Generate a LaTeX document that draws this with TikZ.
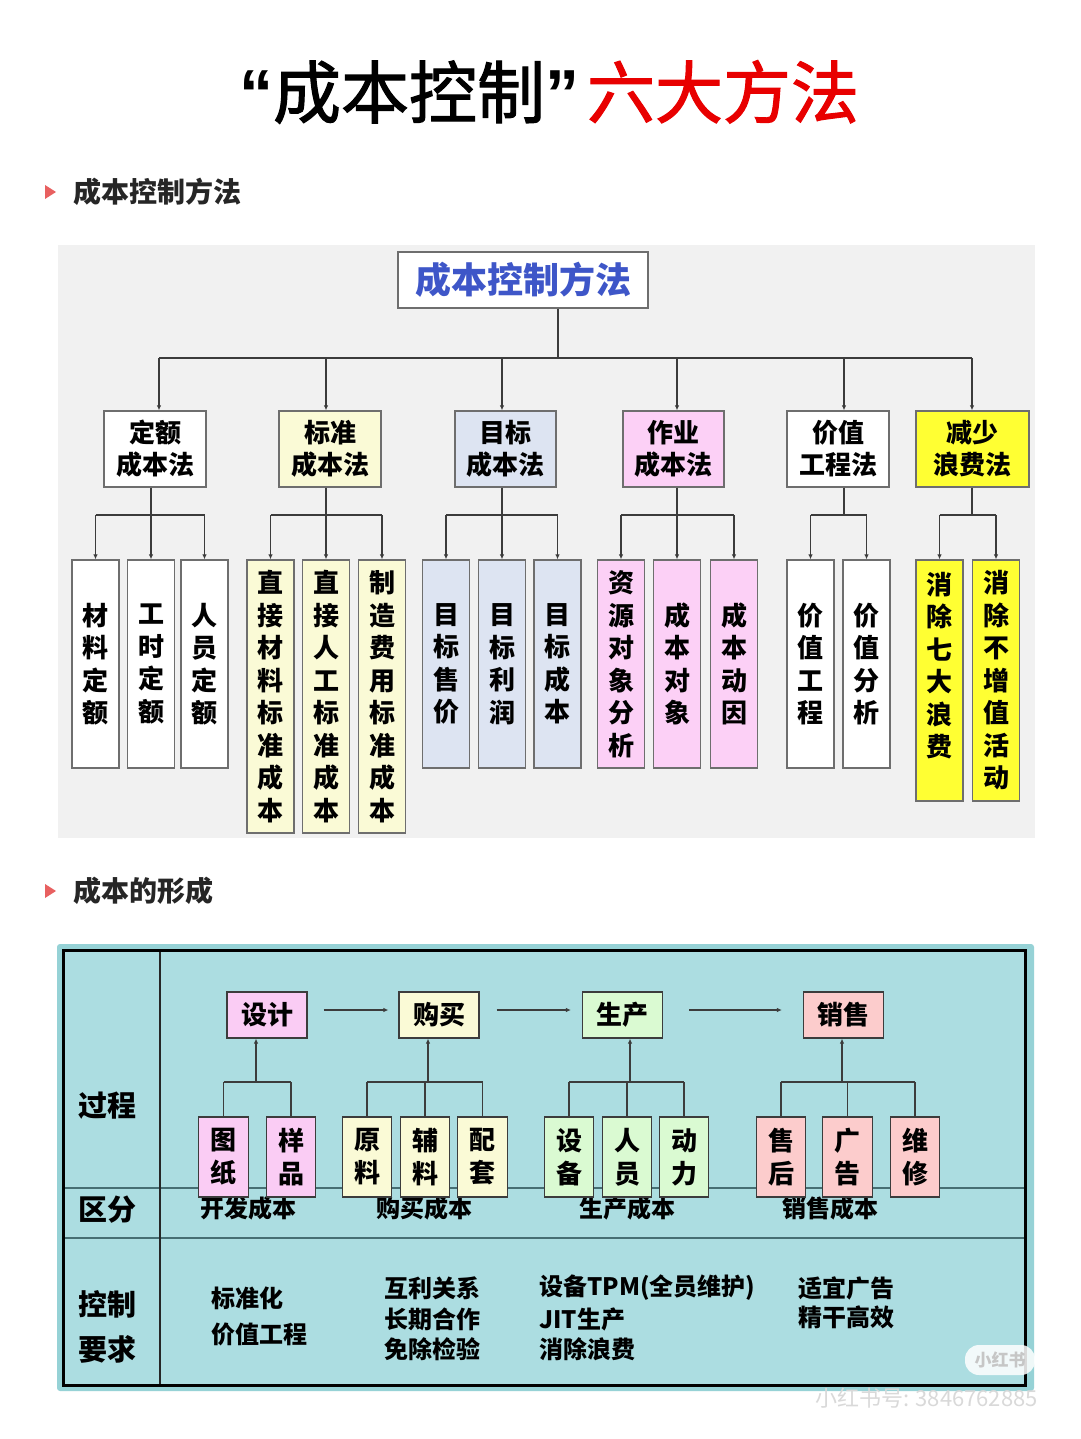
\documentclass[tikz,border=0pt]{standalone}
\usepackage{fontspec}
\setmainfont{Noto Sans CJK SC}
\newfontfamily\titlefont{Noto Sans CJK SC}[FakeBold=1.6]
\newfontfamily\quotefont{Liberation Sans}
\usetikzlibrary{arrows.meta,calc}
\definecolor{lnc}{RGB}{60,60,60}
\definecolor{bdc}{RGB}{110,110,110}
\definecolor{cwhite}{RGB}{255,255,255}
\definecolor{cly}{RGB}{250,250,214}
\definecolor{clb}{RGB}{221,228,242}
\definecolor{cpk}{RGB}{252,208,246}
\definecolor{cyl}{RGB}{255,255,51}
\definecolor{rootblue}{RGB}{62,86,200}
\definecolor{panel}{RGB}{241,241,241}
\definecolor{secred}{RGB}{232,96,96}
\definecolor{titred}{RGB}{232,0,0}
\definecolor{teal}{RGB}{172,221,225}
\definecolor{tealframe}{RGB}{150,210,214}
\definecolor{rowline}{RGB}{70,110,115}
\definecolor{bpk}{RGB}{250,204,244}
\definecolor{bly}{RGB}{250,250,214}
\definecolor{bgr}{RGB}{218,250,210}
\definecolor{bsa}{RGB}{252,204,204}
\tikzset{
  ln/.style={draw=lnc,line width=1.3pt},
  arr/.style={draw=lnc,line width=1.3pt,-{Latex[length=5pt,width=4.5pt]}},
  rootbox/.style={draw=bdc,line width=1.3pt,fill=white,minimum width=250pt,minimum height=56pt,inner sep=0pt,text=rootblue,font={\bfseries\fontsize{36}{40}\selectfont}},
  lonebox/.style={draw=bdc,line width=1.3pt,minimum height=76pt,inner sep=0pt,align=center,font={\bfseries\fontsize{26}{32}\selectfont}},
  leaf/.style={draw=bdc,line width=1.3pt,minimum width=47pt,inner sep=0pt,align=center,font={\bfseries\fontsize{26}{32.5}\selectfont}},
  pbox/.style={draw=lnc,line width=1.2pt,minimum width=80pt,minimum height=46pt,inner sep=0pt,font={\bfseries\fontsize{26}{30}\selectfont}},
  sbox/.style={draw=lnc,line width=1.2pt,minimum width=49.5pt,minimum height=80pt,inner sep=0pt,align=center,font={\bfseries\fontsize{26}{33}\selectfont}},
  rowlab/.style={inner sep=0pt,font={\bfseries\fontsize{29}{32}\selectfont}},
  costlab/.style={inner sep=0pt,font={\bfseries\fontsize{24}{28}\selectfont}},
  ctl/.style={inner sep=0pt,anchor=west,font={\bfseries\fontsize{24}{28}\selectfont}},
  sechead/.style={inner sep=0pt,anchor=west,text={black!85},font={\bfseries\fontsize{28}{32}\selectfont}}
}
\begin{document}
\begin{tikzpicture}[x=1pt,y=-1pt]
\useasboundingbox (0,0) rectangle (1080,1439);
\fill[white] (0,0) rectangle (1080,1439);

% title
\node[inner sep=0pt,font={\titlefont\fontsize{68}{72}\selectfont}] (title) at (549,92) {{\quotefont\bfseries “}成本控制{\quotefont\bfseries ”}\hspace{8pt}\textcolor{titred}{六大方法}};

% section 1
\fill[secred] (45,185) -- (56,192) -- (45,199) -- cycle;
\node[sechead] (sec1) at (73,192) {成本控制方法};

% panel
\fill[panel] (58,245) rectangle (1035,838);

% root
\node[rootbox] (root) at (523,280) {成本控制方法};

% level 1
\node[lonebox,fill=cwhite,minimum width=102pt] (A) at (155,449) {定额\\成本法};
\node[lonebox,fill=cly,minimum width=102pt] (B) at (330,449) {标准\\成本法};
\node[lonebox,fill=clb,minimum width=101pt] (C) at (505.5,449) {目标\\成本法};
\node[lonebox,fill=cpk,minimum width=101pt] (D) at (673.5,449) {作业\\成本法};
\node[lonebox,fill=cwhite,minimum width=102pt] (E) at (838,449) {价值\\工程法};
\node[lonebox,fill=cyl,minimum width=113pt] (F) at (972.5,449) {减少\\浪费法};

% root connectors
\coordinate (bus0) at (558,358);
\draw[ln] (root.south -| bus0) -- (bus0);
\coordinate (dA) at (159,358);
\coordinate (dB) at (326,358);
\coordinate (dC) at (502,358);
\coordinate (dD) at (677,358);
\coordinate (dE) at (844,358);
\coordinate (dF) at (972,358);
\draw[ln] (dA) -- (dF);
\foreach \c/\n in {dA/A,dB/B,dC/C,dD/D,dE/E,dF/F}
  \draw[arr] (\c) -- (\c |- \n.north);

% leaves
\node[leaf,fill=cwhite,minimum height=208pt] (a1) at (95.5,664) {材\\料\\定\\额};
\node[leaf,fill=cwhite,minimum height=208pt] (a2) at (151,664) {工\\时\\定\\额};
\node[leaf,fill=cwhite,minimum height=208pt] (a3) at (204.5,664) {人\\员\\定\\额};
\node[leaf,fill=cly,minimum height=273pt] (b1) at (270.5,696.5) {直\\接\\材\\料\\标\\准\\成\\本};
\node[leaf,fill=cly,minimum height=273pt] (b2) at (326,696.5) {直\\接\\人\\工\\标\\准\\成\\本};
\node[leaf,fill=cly,minimum height=273pt] (b3) at (382,696.5) {制\\造\\费\\用\\标\\准\\成\\本};
\node[leaf,fill=clb,minimum height=208pt] (c1) at (446,664) {目\\标\\售\\价};
\node[leaf,fill=clb,minimum height=208pt] (c2) at (502,664) {目\\标\\利\\润};
\node[leaf,fill=clb,minimum height=208pt] (c3) at (557.5,664) {目\\标\\成\\本};
\node[leaf,fill=cpk,minimum height=208pt] (d1) at (621,664) {资\\源\\对\\象\\分\\析};
\node[leaf,fill=cpk,minimum height=208pt] (d2) at (677,664) {成\\本\\对\\象};
\node[leaf,fill=cpk,minimum height=208pt] (d3) at (734,664) {成\\本\\动\\因};
\node[leaf,fill=cwhite,minimum height=208pt] (e1) at (810.5,664) {价\\值\\工\\程};
\node[leaf,fill=cwhite,minimum height=208pt] (e2) at (866.5,664) {价\\值\\分\\析};
\node[leaf,fill=cyl,minimum height=241pt] (f1) at (939.5,680.5) {消\\除\\七\\大\\浪\\费\\\mbox{}};
\node[leaf,fill=cyl,minimum height=241pt] (f2) at (996,680.5) {消\\除\\不\\增\\值\\活\\动};

% level-1 to leaves
\foreach \p/\x/\first/\last/\kids in {
  A/151/a1/a3/{a1,a2,a3},
  B/326/b1/b3/{b1,b2,b3},
  C/502/c1/c3/{c1,c2,c3},
  D/677/d1/d3/{d1,d2,d3},
  E/844/e1/e2/{e1,e2},
  F/972/f1/f2/{f1,f2}}{
  \coordinate (s\p) at (\x,515);
  \draw[ln] (\p.south -| s\p) -- (s\p);
  \draw[ln] (\first |- s\p) -- (\last |- s\p);
  \foreach \k in \kids \draw[arr] (\k |- s\p) -- (\k.north);
}

% section 2
\fill[secred] (45,884) -- (56,891) -- (45,898) -- cycle;
\node[sechead] (sec2) at (73,891) {成本的形成};

% table
\fill[tealframe,rounded corners=3pt] (57,944) rectangle (1034,1391);
\fill[teal] (63,950) rectangle (1025,1385);
\draw[rowline,line width=1.5pt] (63,1188) -- (1025,1188);
\draw[rowline,line width=1.5pt] (63,1238) -- (1025,1238);
\draw[black!85,line width=1.5pt] (160,950) -- (160,1385);
\draw[black,line width=3pt] (63,950) rectangle (1025,1385);

\node[rowlab] (r1) at (107,1106) {过程};
\node[rowlab] (r2) at (107,1210) {区分};
\node[rowlab] (r3) at (107,1304) {控制};
\node[rowlab] (r4) at (107,1349) {要求};

\node[costlab] (k1) at (248,1208) {开发成本};
\node[costlab] (k2) at (424,1208) {购买成本};
\node[costlab] (k3) at (627,1208) {生产成本};
\node[costlab] (k4) at (830,1208) {销售成本};

% process boxes
\node[pbox,fill=bpk] (P1) at (267,1015) {设计};
\node[pbox,fill=bly] (P2) at (439,1015) {购买};
\node[pbox,fill=bgr] (P3) at (622.5,1015) {生产};
\node[pbox,fill=bsa] (P4) at (843.5,1015) {销售};
\draw[arr,line width=1.1pt,shorten <=16pt,shorten >=10pt] ([yshift=5pt]P1.east) -- ([yshift=5pt]P2.west);
\draw[arr,line width=1.1pt,shorten <=17pt,shorten >=11pt] ([yshift=5pt]P2.east) -- ([yshift=5pt]P3.west);
\draw[arr,line width=1.1pt,shorten <=26pt,shorten >=21pt] ([yshift=5pt]P3.east) -- ([yshift=5pt]P4.west);

% sub boxes
\node[sbox,fill=bpk] (q1) at (223.5,1157) {图\\纸};
\node[sbox,fill=bpk] (q2) at (291,1157) {样\\品};
\node[sbox,fill=bly] (q3) at (367,1157) {原\\料};
\node[sbox,fill=bly] (q4) at (425,1157) {辅\\料};
\node[sbox,fill=bly] (q5) at (482.5,1157) {配\\套};
\node[sbox,fill=bgr] (q6) at (569,1157) {设\\备};
\node[sbox,fill=bgr] (q7) at (627,1157) {人\\员};
\node[sbox,fill=bgr] (q8) at (684,1157) {动\\力};
\node[sbox,fill=bsa] (q9) at (781,1157) {售\\后};
\node[sbox,fill=bsa] (q10) at (847.5,1157) {广\\告};
\node[sbox,fill=bsa] (q11) at (915,1157) {维\\修};

\foreach \p/\x/\first/\last/\kids in {
  P1/256/q1/q2/{q1,q2},
  P2/428/q3/q5/{q3,q4,q5},
  P3/630/q6/q8/{q6,q7,q8},
  P4/842/q9/q11/{q9,q10,q11}}{
  \coordinate (t\p) at (\x,1082);
  \draw[arr,line width=1.1pt] (t\p) -- (t\p |- \p.south);
  \draw[ln,line width=1.1pt] (\first |- t\p) -- (\last |- t\p);
  \foreach \k in \kids \draw[ln,line width=1.1pt] (\k |- t\p) -- (\k.north);
}

% control requirements
\node[ctl] (m1) at (211,1298) {标准化};
\node[ctl] (m2) at (211,1334) {价值工程};
\node[ctl] (m3) at (384,1288) {互利关系};
\node[ctl] (m4) at (384,1319) {长期合作};
\node[ctl] (m5) at (384,1349) {免除检验};
\node[ctl] (m6) at (539,1288) {设备TPM(全员维护)};
\node[ctl] (m7) at (539,1319) {JIT生产};
\node[ctl] (m8) at (539,1349) {消除浪费};
\node[ctl] (m9) at (798,1288) {适宜广告};
\node[ctl] (m10) at (798,1317) {精干高效};

% watermark
\node[fill=white,fill opacity=0.85,text opacity=1,rounded corners=14pt,minimum width=70pt,minimum height=30pt,inner sep=0pt,text=gray!45,font={\bfseries\fontsize{17}{20}\selectfont}] (wm1) at (1000,1360) {小红书};
\node[inner sep=0pt,anchor=east,text=gray!30,font={\fontsize{22}{26}\selectfont}] (wm2) at (1038,1398) {小红书号: 3846762885};
\end{tikzpicture}
\end{document}
